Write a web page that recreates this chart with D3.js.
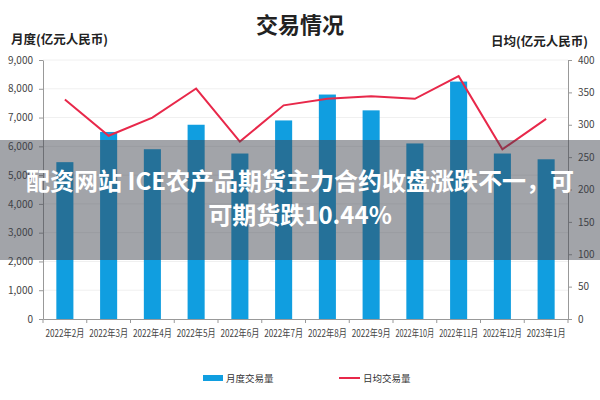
<!DOCTYPE html>
<html>
<head>
<meta charset="utf-8">
<script src="https://cdn.jsdelivr.net/npm/d3@7"></script>
<style>
  body { margin: 0; background: #fff; }
  svg { display: block; font-family: "Noto Sans CJK SC", "Noto Sans", sans-serif; }
</style>
</head>
<body>
<svg id="chart" width="600" height="400"></svg>
<script>
const months = ['2022年2月', '2022年3月', '2022年4月', '2022年5月', '2022年6月', '2022年7月',
  '2022年8月', '2022年9月', '2022年10月', '2022年11月', '2022年12月', '2023年1月'];
const monthly = [5450, 6500, 5900, 6750, 5750, 6900, 7800, 7250, 6100, 8250, 5750, 5550];
const daily = [339, 283, 311, 356, 274, 330, 340, 344, 340, 375, 262, 309];
const leftTicks = d3.range(0, 9001, 1000);
const rightTicks = d3.range(0, 401, 50);

const width = 600, height = 400;
const margin = { top: 60, right: 32, bottom: 81, left: 43 };
const barColor = '#109ee0';
const lineColor = '#e8284a';

const svg = d3.select('#chart');

const x = d3.scaleBand()
  .domain(months)
  .range([margin.left, width - margin.right])
  .paddingInner(0.61)
  .paddingOuter(0.305);

const y = d3.scaleLinear().domain([0, 9000]).range([height - margin.bottom, margin.top]);
const y2 = d3.scaleLinear().domain([0, 400]).range([height - margin.bottom, margin.top]);

// faint grid
svg.append('g')
  .selectAll('line')
  .data(leftTicks.slice(1))
  .join('line')
    .attr('x1', margin.left).attr('x2', width - margin.right)
    .attr('y1', d => y(d)).attr('y2', d => y(d))
    .attr('stroke', '#f0f0f0');

// bars
svg.append('g')
  .attr('fill', barColor)
  .selectAll('rect')
  .data(months)
  .join('rect')
    .attr('x', d => x(d))
    .attr('y', (d, i) => y(monthly[i]))
    .attr('width', x.bandwidth())
    .attr('height', (d, i) => y(0) - y(monthly[i]));

// line
const line = d3.line()
  .x((d, i) => x(months[i]) + x.bandwidth() / 2)
  .y(d => y2(d));

svg.append('path')
  .datum(daily)
  .attr('fill', 'none')
  .attr('stroke', lineColor)
  .attr('stroke-width', 2)
  .attr('d', line);

// axes
const styleAxis = g => {
  g.selectAll('.domain').attr('stroke', '#999');
  g.selectAll('.tick line').attr('stroke', '#999');
  g.selectAll('.tick text').attr('fill', '#444').attr('font-size', 10)
    .attr('font-family', '"Liberation Sans Narrow", "Noto Sans CJK SC", sans-serif');
};

svg.append('g')
  .attr('transform', `translate(${margin.left},0)`)
  .call(d3.axisLeft(y).tickValues(leftTicks).tickFormat(d3.format(',')).tickSize(4).tickSizeOuter(0).tickPadding(6))
  .call(styleAxis);

svg.append('g')
  .attr('transform', `translate(${width - margin.right},0)`)
  .call(d3.axisRight(y2).tickValues(rightTicks).tickSize(4).tickSizeOuter(0).tickPadding(6))
  .call(styleAxis);

const xAxis = svg.append('g')
  .attr('transform', `translate(0,${height - margin.bottom})`)
  .call(d3.axisBottom(x).tickSize(0).tickSizeOuter(0).tickPadding(11))
  .call(styleAxis);
// squeeze long labels horizontally so they fit in a band
xAxis.selectAll('.tick text')
  .attr('font-size', 10)
  .each(function () {
    const w = this.getComputedTextLength();
    const sx = Math.min(1, 39 / w);
    d3.select(this).attr('transform', `scale(${sx},1)`);
  });

// tick marks between categories
const step = x.step();
svg.append('g')
  .selectAll('line')
  .data(d3.range(months.length + 1))
  .join('line')
    .attr('x1', i => margin.left + i * step).attr('x2', i => margin.left + i * step)
    .attr('y1', y(0)).attr('y2', y(0) + 4)
    .attr('stroke', '#999');

// titles
svg.append('text')
  .attr('x', width / 2).attr('y', 33)
  .attr('text-anchor', 'middle')
  .attr('font-size', 22).attr('font-weight', 'bold').attr('fill', '#222')
  .text('交易情况');

svg.append('text')
  .attr('x', 11).attr('y', 44)
  .attr('font-size', 12.5).attr('font-weight', 'bold').attr('fill', '#222')
  .text('月度(亿元人民币)');

svg.append('text')
  .attr('x', 588).attr('y', 46)
  .attr('text-anchor', 'end')
  .attr('font-size', 12.5).attr('font-weight', 'bold').attr('fill', '#222')
  .text('日均(亿元人民币)');

// legend
const legend = svg.append('g').attr('font-size', 9.5).attr('fill', '#333');
legend.append('rect').attr('x', 203).attr('y', 375).attr('width', 20).attr('height', 6).attr('fill', barColor);
legend.append('text').attr('x', 226).attr('y', 382).text('月度交易量');
legend.append('line').attr('x1', 339).attr('x2', 360).attr('y1', 378).attr('y2', 378)
  .attr('stroke', lineColor).attr('stroke-width', 2);
legend.append('text').attr('x', 363).attr('y', 382).text('日均交易量');

// overlay banner
svg.append('rect')
  .attr('x', 0).attr('y', 140).attr('width', width).attr('height', 120)
  .attr('fill', 'rgb(60,64,76)').attr('fill-opacity', 0.48);

const banner = svg.append('g')
  .attr('text-anchor', 'middle').attr('fill', '#fff')
  .attr('font-size', 24).attr('font-weight', 'bold');
banner.append('text').attr('x', width / 2).attr('y', 190)
  .text('配资网站 ICE农产品期货主力合约收盘涨跌不一，可');
banner.append('text').attr('x', width / 2).attr('y', 224)
  .text('可期货跌10.44%');
</script>
</body>
</html>
